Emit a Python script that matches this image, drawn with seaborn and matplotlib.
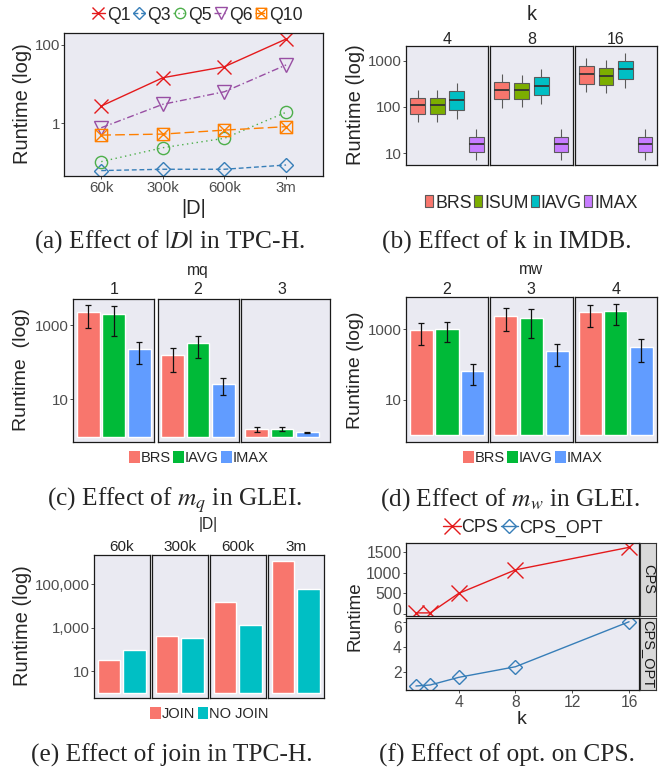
import numpy as np
import pandas as pd
import matplotlib
matplotlib.use("Agg")
import matplotlib.pyplot as plt
import seaborn as sns
from matplotlib.lines import Line2D
from matplotlib.patches import Patch
from matplotlib.path import Path
from matplotlib.ticker import FixedLocator, NullLocator, FuncFormatter
from matplotlib.transforms import ScaledTranslation

# ---------------- data ----------------
# (a) effect of |D| in TPC-H
sizes_a = ["60k", "300k", "600k", "3m"]
q1_vals = [2.76, 14.6, 27.9, 142]
q3_vals = [0.062, 0.067, 0.067, 0.086]
q5_vals = [0.105, 0.238, 0.414, 1.91]
q6_vals = [0.77, 3.06, 6.4, 30.9]
q10_vals = [0.50, 0.53, 0.67, 0.82]

# (b) effect of k in IMDB: [low whisker, Q1, median, Q3, high whisker]
box_k = ["4", "8", "16"]
box_methods = ["BRS", "ISUM", "IAVG", "IMAX"]
brs_box = [[48, 70, 109, 160, 238], [95, 146, 229, 346, 525], [210, 320, 510, 767, 1170]]
isum_box = [[48, 72, 108, 160, 238], [100, 148, 229, 335, 490], [200, 305, 460, 690, 1020]]
iavg_box = [[56, 88, 140, 218, 330], [114, 180, 284, 445, 675], [262, 410, 645, 990, 1490]]
imax_box = [[7.2, 10.7, 15.5, 23, 34], [7.2, 10.7, 15.5, 23, 34], [7.2, 10.7, 15.5, 23, 34]]

# (c) effect of m_q in GLEI
bar_methods = ["BRS", "IAVG", "IMAX"]
mq_levels = ["1", "2", "3"]
c_brs = [2190, 156, 1.6]
c_brs_lo = [846, 55, 1.35]
c_brs_hi = [3450, 245, 1.85]
c_iavg = [1940, 322, 1.6]
c_iavg_lo = [515, 127, 1.38]
c_iavg_hi = [3240, 515, 1.8]
c_imax = [222, 25.5, 1.3]
c_imax_lo = [88, 13.4, 1.27]
c_imax_hi = [356, 38.5, 1.33]

# (d) effect of m_w in GLEI
mw_levels = ["2", "3", "4"]
d_brs = [940, 2380, 3100]
d_brs_lo = [360, 910, 1185]
d_brs_hi = [1480, 3940, 4980]
d_iavg = [1020, 2090, 3300]
d_iavg_lo = [428, 556, 1325]
d_iavg_hi = [1580, 3690, 5300]
d_imax = [66, 243, 315]
d_imax_lo = [26, 91, 121]
d_imax_hi = [107, 384, 520]

# (e) effect of join in TPC-H
join_methods = ["JOIN", "NO JOIN"]
e_sizes = ["60k", "300k", "600k", "3m"]
e_join = [32, 410, 15000, 1.18e6]
e_nojoin = [93, 330, 1330, 61000]

# (f) effect of opt. on CPS
f_k = [1, 2, 4, 8, 16]
cps_vals = [30, 30, 500, 1070, 1615]
cps_opt_vals = [0.86, 0.94, 1.55, 2.4, 6.0]

# ---------------- style ----------------
W, H = 668, 769
sns.set_theme(style="dark", rc={
    "axes.facecolor": "#EAEAF2",
    "axes.edgecolor": "#1a1a1a",
    "axes.linewidth": 0.9,
    "xtick.color": "#333333",
    "ytick.color": "#333333",
    "xtick.labelcolor": "#4D4D4D",
    "ytick.labelcolor": "#4D4D4D",
    "xtick.bottom": True,
    "ytick.left": True,
    "xtick.major.size": 2,
    "ytick.major.size": 2,
    "xtick.major.width": 0.6,
    "ytick.major.width": 0.6,
    "xtick.major.pad": 1.5,
    "ytick.major.pad": 1.2,
})
plt.rcParams["font.family"] = ["Liberation Sans", "DejaVu Sans"]
plt.rcParams["mathtext.fontset"] = "stix"

fig = plt.figure(figsize=(W / 100, H / 100), dpi=100)


def add_ax(l, t, r, b):
    return fig.add_axes([l / W, 1 - b / H, (r - l) / W, (b - t) / H])


def ftext(x, y, s, **kw):
    kw.setdefault("ha", "center")
    kw.setdefault("va", "center")
    return fig.text(x / W, 1 - y / H, s, **kw)


def flegend(handles, labels, x, y, size, **kw):
    leg = fig.legend(handles, labels, loc="center", bbox_to_anchor=(x / W, 1 - y / H),
                     ncol=len(labels), frameon=False, fontsize=size, **kw)
    return leg


CAP = dict(family=["Liberation Serif", "DejaVu Serif"], fontsize=18.3)
TICK = 10.8

# ---------------- (a) ----------------
axa = add_ax(64.3, 32.7, 323, 176)
axa.set_yscale("log")
sq_cross = Path([(-1, -1), (1, -1), (1, 1), (-1, 1), (-1, -1), (-1, -1), (1, 1), (-1, 1), (1, -1)],
                [Path.MOVETO, Path.LINETO, Path.LINETO, Path.LINETO, Path.CLOSEPOLY,
                 Path.MOVETO, Path.LINETO, Path.MOVETO, Path.LINETO])
series_a = [
    ("Q1", q1_vals, "#E41A1C", "x", "-", 10),
    ("Q3", q3_vals, "#377EB8", "D", (0, (3.5, 2)), 7.4),
    ("Q5", q5_vals, "#4DAF4A", "o", (0, (1, 2.5)), 8.8),
    ("Q6", q6_vals, "#984EA3", "v", (0, (5, 2, 1, 2)), 10.5),
    ("Q10", q10_vals, "#FF7F00", sq_cross, (0, (7, 3)), 8.8),
]
handles_a = []
for name, vals, col, mk, ls, ms in series_a:
    sns.lineplot(x=sizes_a, y=vals, color=col, marker=mk, linestyle=ls, ms=ms, mfc="none",
                 mec=col, mew=1.0, lw=1.0, sort=False, ax=axa)
    handles_a.append(Line2D([], [], color=col, marker=mk, linestyle=ls, ms=ms * 0.85,
                            mfc="none", mec=col, mew=1.0, lw=1.0))
axa.set_xlim(-0.6, 3.6)
axa.set_ylim(10 ** -1.346, 10 ** 2.314)
axa.yaxis.set_major_locator(FixedLocator([1, 100]))
axa.yaxis.set_minor_locator(NullLocator())
axa.yaxis.set_major_formatter(FuncFormatter(lambda v, p: f"{v:g}"))
axa.tick_params(labelsize=TICK)
axa.set_xlabel("")
axa.set_ylabel("")
flegend(handles_a, [s[0] for s in series_a], 197.5, 15, 12.7,
        handlelength=0.75, handletextpad=0.1, columnspacing=0.12)
ftext(22, 104, "Runtime (log)", rotation=90, fontsize=14.5)
ftext(193.5, 208, "|D|", fontsize=14.5)
ftext(170, 242, "(a) Effect of $|D|$ in TPC-H.", **CAP)

# ---------------- (b) ----------------
colors_b = ["#F8766D", "#7CAE00", "#00BFC4", "#C77CFF"]
rows = []
for i, k in enumerate(box_k):
    for m, stats in zip(box_methods, [brs_box, isum_box, iavg_box, imax_box]):
        for v in stats[i]:
            rows.append({"k": k, "method": m, "runtime": v})
df_b = pd.DataFrame(rows)
panels_b = [(406, 488), (490, 572.7), (574.7, 656.7)]
for i, (k, (l, r)) in enumerate(zip(box_k, panels_b)):
    ax = add_ax(l, 46, r, 165)
    sns.boxplot(data=df_b[df_b.k == k], x="method", y="runtime", hue="method",
                order=box_methods, hue_order=box_methods, palette=colors_b, width=0.75,
                whis=(0, 100), showcaps=False, linecolor="#5a5a5a", linewidth=0.8,
                saturation=1, legend=False, log_scale=True, ax=ax,
                medianprops=dict(linewidth=1.3, color="#333333"))
    ax.set_xlim(-0.6, 3.6)
    ax.set_ylim(10 ** 0.747, 10 ** 3.317)
    ax.set_xticks([])
    ax.set_xlabel("")
    ax.set_ylabel("")
    ax.yaxis.set_major_locator(FixedLocator([10, 100, 1000]))
    ax.yaxis.set_minor_locator(NullLocator())
    ax.yaxis.set_major_formatter(FuncFormatter(lambda v, p: f"{v:g}"))
    ax.tick_params(labelsize=TICK)
    if i > 0:
        ax.tick_params(left=False, labelleft=False)
    ftext((l + r) / 2, 40, k, fontsize=11.5)
handles_b = [Patch(facecolor=c, edgecolor="#5a5a5a", linewidth=0.8) for c in colors_b]
flegend(handles_b, box_methods, 531.5, 203, 12.8, handlelength=0.42, handleheight=0.65,
        handletextpad=0.12, columnspacing=0.15)
ftext(532, 15, "k", fontsize=14.5)
ftext(355.5, 105, "Runtime (log)", rotation=90, fontsize=14.5)
ftext(507, 242, "(b) Effect of k in IMDB.", **CAP)

# ---------------- (c) & (d) ----------------
colors_cd = ["#F8766D", "#00BA38", "#619CFF"]


def bar_facet(ax, cats, vals, lo, hi, colors, ylim, ticks, fmt, xpad=0.0):
    df = pd.DataFrame({"method": cats, "runtime": vals})
    sns.barplot(data=df, x="method", y="runtime", hue="method", order=cats, hue_order=cats,
                palette=colors, width=0.9, errorbar=None, legend=False, saturation=1,
                log_scale=True, ax=ax)
    for p in ax.patches:
        top = p.get_y() + p.get_height()
        p.set_y(1)
        p.set_height(top - 1)
    if lo is not None:
        pos = np.arange(len(cats))
        v = np.array(vals, float)
        ax.errorbar(pos, v, yerr=[v - np.array(lo), np.array(hi) - v], fmt="none",
                    ecolor="#111111", elinewidth=0.9, capsize=1.9, capthick=0.9)
    ax.set_xlim(-0.6, len(cats) - 0.4 + xpad)
    ax.set_ylim(*ylim)
    ax.set_xticks([])
    ax.set_xlabel("")
    ax.set_ylabel("")
    ax.yaxis.set_major_locator(FixedLocator(ticks))
    ax.yaxis.set_minor_locator(NullLocator())
    ax.yaxis.set_major_formatter(FuncFormatter(fmt))
    ax.tick_params(labelsize=TICK)


plain = lambda v, p: f"{v:g}"
panels_c = [(73.3, 154.3), (157.5, 238.5), (241.5, 330)]
xpads_c = [0.0, 0.0, 0.3]
c_data = list(zip(c_brs, c_iavg, c_imax))
c_lo = list(zip(c_brs_lo, c_iavg_lo, c_imax_lo))
c_hi = list(zip(c_brs_hi, c_iavg_hi, c_imax_hi))
for i, (lev, (l, r)) in enumerate(zip(mq_levels, panels_c)):
    ax = add_ax(l, 299, r, 442.3)
    bar_facet(ax, bar_methods, c_data[i], c_lo[i], c_hi[i], colors_cd,
              (10 ** -0.156, 10 ** 3.70), [10, 1000], plain, xpads_c[i])
    if i > 0:
        ax.tick_params(left=False, labelleft=False)
    ftext((l + r) / 2 if i < 2 else 282, 290, lev, fontsize=11.5)
handles_cd = [Patch(facecolor=c, edgecolor="none") for c in colors_cd]
flegend(handles_cd, bar_methods, 199, 458, 10.5, handlelength=0.75, handleheight=0.8,
        handletextpad=0.05, columnspacing=0.15)
ftext(198, 270, "mq", fontsize=11.2)
ftext(22, 370, "Runtime  (log)", rotation=90, fontsize=14)
ftext(175, 500, "(c) Effect of $m_q$ in GLEI.", **CAP)

panels_d = [(406, 488), (490, 572.7), (574.7, 656.7)]
d_data = list(zip(d_brs, d_iavg, d_imax))
d_lo = list(zip(d_brs_lo, d_iavg_lo, d_imax_lo))
d_hi = list(zip(d_brs_hi, d_iavg_hi, d_imax_hi))
for i, (lev, (l, r)) in enumerate(zip(mw_levels, panels_d)):
    ax = add_ax(l, 297.3, r, 441.7)
    bar_facet(ax, bar_methods, d_data[i], d_lo[i], d_hi[i], colors_cd,
              (10 ** -0.18, 10 ** 3.906), [10, 1000], plain)
    if i > 0:
        ax.tick_params(left=False, labelleft=False)
    ftext((l + r) / 2, 290, lev, fontsize=11.5)
flegend(handles_cd, bar_methods, 532.5, 458, 10.5, handlelength=0.75, handleheight=0.8,
        handletextpad=0.05, columnspacing=0.15)
ftext(531.5, 270, "mw", fontsize=11.2)
ftext(355.7, 370, "Runtime (log)", rotation=90, fontsize=14)
ftext(510, 500, "(d) Effect of $m_w$ in GLEI.", **CAP)

# ---------------- (e) ----------------
colors_e = ["#F8766D", "#00BFC4"]
panels_e = [(94, 149.5), (152, 207.5), (210, 265.5), (268, 323.5)]
comma = lambda v, p: f"{v:,.0f}"
for i, (lev, (l, r)) in enumerate(zip(e_sizes, panels_e)):
    ax = add_ax(l, 554.7, r, 697.7)
    bar_facet(ax, join_methods, [e_join[i], e_nojoin[i]], None, None, colors_e,
              (10 ** -0.23, 10 ** 6.364), [10, 1000, 100000], comma)
    if i > 0:
        ax.tick_params(left=False, labelleft=False)
    ftext((l + r) / 2, 547, lev, fontsize=11)
handles_e = [Patch(facecolor=c, edgecolor="none") for c in colors_e]
flegend(handles_e, join_methods, 209.5, 714, 10.5, handlelength=0.75, handleheight=0.8,
        handletextpad=0.05, columnspacing=0.15)
ftext(208.5, 525, "|D|", fontsize=11.2)
ftext(22, 626, "Runtime (log)", rotation=90, fontsize=14.5)
ftext(172, 755, "(e) Effect of join in TPC-H.", **CAP)

# ---------------- (f) ----------------
axf1 = add_ax(406, 543, 639, 616)
axf2 = add_ax(406, 618, 639, 690)
sns.lineplot(x=f_k, y=cps_vals, color="#E41A1C", marker="x", ms=11, mew=1.0, mec="#E41A1C",
             lw=1.0, ax=axf1)
sns.lineplot(x=f_k, y=cps_opt_vals, color="#377EB8", marker="D", ms=7.5, mfc="none",
             mew=1.0, mec="#377EB8", lw=1.0, ax=axf2)
for ax in (axf1, axf2):
    ax.set_xlim(0.3, 16.7)
    ax.set_xlabel("")
    ax.set_ylabel("")
    ax.tick_params(labelsize=11.3)
axf1.set_ylim(-45, 1720)
axf1.set_yticks([0, 500, 1000, 1500])
axf1.set_xticks([4, 8, 12, 16])
axf1.tick_params(labelbottom=False, bottom=False)
axf2.set_ylim(0.54, 6.3)
axf2.set_yticks([2, 4, 6])
axf2.set_xticks([4, 8, 12, 16])
# keep the neighbouring "0" (top panel) and "6" (bottom panel) labels apart
fig.canvas.draw()
t0 = axf1.yaxis.get_major_ticks()[0].label1
t0.set_transform(t0.get_transform() + ScaledTranslation(0, 3.5 / 72, fig.dpi_scale_trans))
t6 = axf2.yaxis.get_major_ticks()[2].label1
t6.set_transform(t6.get_transform() + ScaledTranslation(0, -3.5 / 72, fig.dpi_scale_trans))
for (t, b), lab in zip([(543, 616), (618, 690)], ["CPS", "CPS_OPT"]):
    sax = add_ax(640, t, 656, b)
    sax.set_facecolor("#D9D9D9")
    sax.set_xticks([])
    sax.set_yticks([])
    for s in sax.spines.values():
        s.set_color("#333333")
        s.set_linewidth(0.8)
    sax.text(0.5, 0.5, lab, rotation=270, ha="center", va="center", fontsize=10.5,
             color="#1a1a1a", transform=sax.transAxes)
handles_f = [Line2D([], [], color="#E41A1C", marker="x", ms=11, mew=1.0, lw=1.0),
             Line2D([], [], color="#377EB8", marker="D", ms=7.5, mfc="none", mew=1.0, lw=1.0)]
flegend(handles_f, ["CPS", "CPS_OPT"], 523, 528, 12.9, handlelength=0.95,
        handletextpad=0.05, columnspacing=0.15)
ftext(355, 616, "Runtime", rotation=90, fontsize=13.5)
ftext(522, 719, "k", fontsize=14)
ftext(507, 755, "(f) Effect of opt. on CPS.", **CAP)

fig.savefig("out.png", dpi=100)
